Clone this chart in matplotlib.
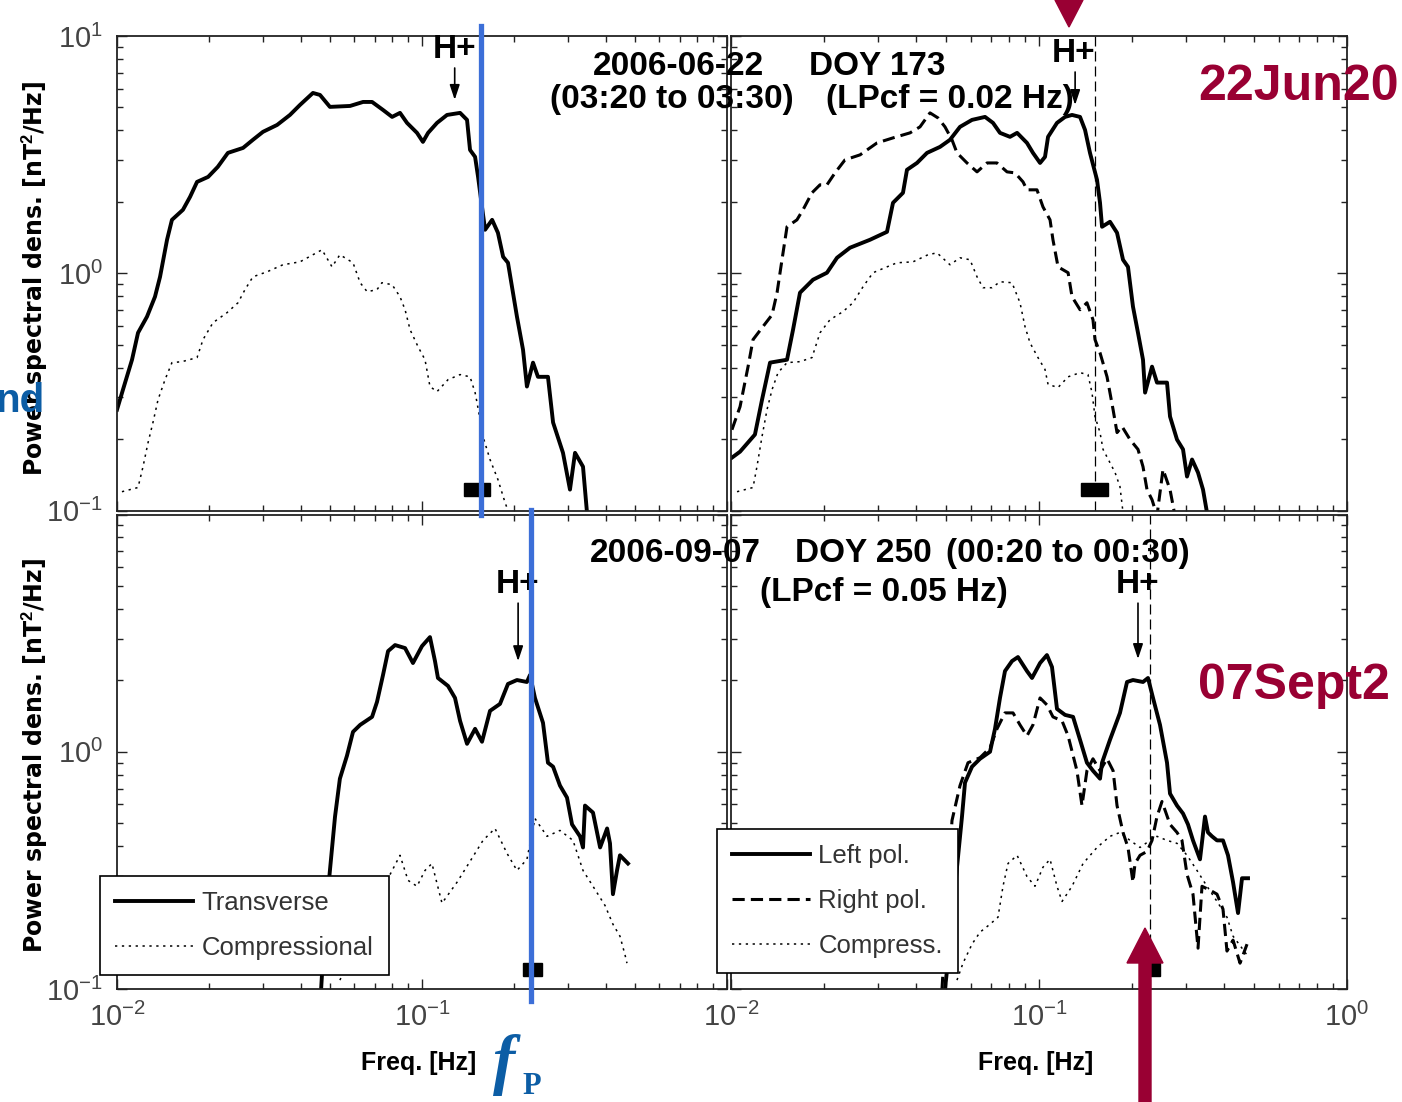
import numpy as np
import matplotlib
matplotlib.use("Agg")
import matplotlib.pyplot as plt
from matplotlib import font_manager as fm
from matplotlib.lines import Line2D
from matplotlib.patches import Rectangle, Polygon
from matplotlib.ticker import FixedLocator, FixedFormatter, LogLocator, NullFormatter

# ---------------------------------------------------------------- data
# Top-left panel: 2006-06-22 (03:20 to 03:30)
tl_trans_f = [0.0100, 0.01046, 0.0112, 0.01172, 0.01254, 0.01332, 0.01384, 0.01459, 0.01514, 0.01645,
              0.01736, 0.0183, 0.0199, 0.0214, 0.0231, 0.0259, 0.0279, 0.0301, 0.0335, 0.0369,
              0.0398, 0.0439, 0.0463, 0.0499, 0.0581, 0.0641, 0.0686, 0.0745, 0.0798, 0.0847,
              0.0893, 0.0963, 0.1007, 0.1047, 0.1120, 0.1208, 0.1333, 0.1405, 0.1437, 0.1493,
              0.1527, 0.1573, 0.1610, 0.1698, 0.1774, 0.1845, 0.1914, 0.2048, 0.2144, 0.2208,
              0.2312, 0.2400, 0.2588, 0.2690, 0.2899, 0.3056, 0.3175, 0.3372, 0.3475]
tl_trans_p = [0.266, 0.323, 0.432, 0.561, 0.656, 0.796, 0.966, 1.384, 1.679, 1.851,
              2.099, 2.427, 2.548, 2.808, 3.216, 3.375, 3.651, 3.945, 4.219, 4.648,
              5.121, 5.754, 5.644, 5.026, 5.072, 5.273, 5.273, 4.879, 4.560, 4.742,
              4.303, 3.906, 3.578, 3.906, 4.303, 4.648, 4.742, 4.430, 3.311, 3.094,
              2.548, 1.905, 1.525, 1.679, 1.481, 1.173, 1.107, 0.656, 0.476, 0.333,
              0.420, 0.366, 0.366, 0.235, 0.175, 0.1225, 0.175, 0.153, 0.098]
tl_comp_f = [0.01038, 0.01172, 0.01217, 0.01264, 0.01312, 0.01363, 0.01437, 0.01514, 0.01633, 0.0183,
             0.01914, 0.02064, 0.02294, 0.02493, 0.02628, 0.0279, 0.03103, 0.0350, 0.0398, 0.0439,
             0.0470, 0.0507, 0.0538, 0.0594, 0.0627, 0.0661, 0.0712, 0.0739, 0.0798, 0.0847,
             0.0880, 0.0914, 0.0970, 0.1023, 0.1062, 0.1120, 0.1217, 0.1333, 0.1437, 0.1493,
             0.1515, 0.1585, 0.1671, 0.1774, 0.1872, 0.1914]
tl_comp_p = [0.120, 0.125, 0.153, 0.193, 0.235, 0.293, 0.356, 0.420, 0.424, 0.441,
             0.525, 0.619, 0.682, 0.751, 0.853, 0.966, 1.014, 1.086, 1.117, 1.197,
             1.256, 1.064, 1.197, 1.107, 0.912, 0.836, 0.853, 0.912, 0.895, 0.796,
             0.702, 0.578, 0.491, 0.432, 0.333, 0.317, 0.356, 0.374, 0.366, 0.314,
             0.285, 0.205, 0.164, 0.135, 0.108, 0.100]

# Top-right panel: DOY 173 (LPcf = 0.02 Hz)
tr_left_f = [0.01007, 0.01070, 0.01196, 0.01261, 0.01339, 0.01520, 0.01590, 0.01675, 0.01846, 0.02049,
             0.02209, 0.02434, 0.02827, 0.0321, 0.03357, 0.03617, 0.03727, 0.04017, 0.04329, 0.04771,
             0.0514, 0.0554, 0.0606, 0.0668, 0.0709, 0.0747, 0.0805, 0.0849, 0.0914, 0.0956,
             0.1008, 0.1046, 0.1070, 0.1144, 0.1215, 0.1280, 0.1359, 0.1411, 0.1464, 0.1543,
             0.1578, 0.1602, 0.1700, 0.1792, 0.1874, 0.1945, 0.2019, 0.2096, 0.2176, 0.2210,
             0.2328, 0.2416, 0.2604, 0.2663, 0.2806, 0.2935, 0.3024, 0.3140, 0.3283, 0.3408, 0.3511]
tr_left_p = [0.167, 0.177, 0.209, 0.293, 0.420, 0.432, 0.578, 0.828, 0.939, 1.005,
             1.162, 1.281, 1.384, 1.495, 1.981, 2.183, 2.729, 2.917, 3.216, 3.409,
             3.651, 4.140, 4.430, 4.560, 4.303, 3.906, 3.758, 3.906, 3.543, 3.216,
             2.917, 3.094, 3.758, 4.303, 4.560, 4.648, 4.560, 4.018, 3.216, 2.475,
             1.981, 1.570, 1.648, 1.481, 1.140, 1.064, 0.723, 0.561, 0.432, 0.314,
             0.404, 0.346, 0.346, 0.249, 0.199, 0.181, 0.139, 0.164, 0.1445, 0.1225, 0.098]
tr_right_f = [0.01007, 0.01070, 0.01136, 0.01179, 0.01270, 0.01359, 0.01411, 0.01464, 0.01520, 0.01637,
              0.01713, 0.01832, 0.01945, 0.02049, 0.02176, 0.02345, 0.02624, 0.02979, 0.03357, 0.03812,
              0.04108, 0.04427, 0.0470, 0.04952, 0.05218, 0.05417, 0.05837, 0.06292, 0.06779, 0.07304,
              0.07874, 0.08359, 0.08875, 0.0914, 0.0985, 0.1030, 0.1086, 0.1110, 0.1153, 0.1243,
              0.1280, 0.1359, 0.1431, 0.1497, 0.1520, 0.1578, 0.1663, 0.1740, 0.1792, 0.1860,
              0.1975, 0.2096, 0.2176, 0.2242, 0.2328, 0.2416, 0.2527, 0.2663, 0.2764]
tr_right_p = [0.219, 0.274, 0.404, 0.525, 0.596, 0.668, 0.828, 1.140, 1.570, 1.679,
              1.851, 2.183, 2.359, 2.359, 2.649, 3.006, 3.155, 3.543, 3.720, 3.906,
              4.140, 4.742, 4.515, 4.140, 3.651, 3.216, 2.917, 2.675, 2.917, 2.917,
              2.675, 2.649, 2.427, 2.247, 2.247, 1.905, 1.679, 1.384, 1.064, 1.005,
              0.796, 0.702, 0.751, 0.637, 0.525, 0.462, 0.366, 0.266, 0.213, 0.226,
              0.199, 0.181, 0.153, 0.1225, 0.111, 0.095, 0.149, 0.1225, 0.095]
tr_comp_f = [0.01046, 0.01179, 0.01214, 0.01261, 0.01309, 0.01359, 0.01421, 0.01520, 0.01675, 0.01832,
             0.01945, 0.02096, 0.02310, 0.02489, 0.02683, 0.02891, 0.0321, 0.03459, 0.03898, 0.04362,
             0.04665, 0.0514, 0.0554, 0.0597, 0.06292, 0.06579, 0.07037, 0.0747, 0.08173, 0.08676,
             0.09006, 0.0935, 0.09926, 0.1046, 0.1070, 0.1153, 0.1243, 0.1359, 0.1442, 0.1486,
             0.1520, 0.1578, 0.1614, 0.1700, 0.1766, 0.1832, 0.1874]
tr_comp_p = [0.120, 0.125, 0.153, 0.205, 0.266, 0.323, 0.381, 0.420, 0.424, 0.441,
             0.561, 0.637, 0.689, 0.751, 0.877, 1.005, 1.064, 1.107, 1.117, 1.197,
             1.219, 1.086, 1.162, 1.140, 0.966, 0.869, 0.869, 0.921, 0.912, 0.751,
             0.596, 0.509, 0.441, 0.393, 0.340, 0.330, 0.366, 0.381, 0.374, 0.314,
             0.249, 0.213, 0.181, 0.159, 0.1445, 0.126, 0.098]

# Bottom-left panel: 2006-09-07
bl_trans_f = [0.04667, 0.04808, 0.0499, 0.05186, 0.0538, 0.05675, 0.0594, 0.0627, 0.0686, 0.0712,
              0.0745, 0.0774, 0.0816, 0.0880, 0.0934, 0.1000, 0.1062, 0.1103, 0.1128, 0.1217,
              0.1283, 0.1333, 0.1405, 0.1493, 0.1573, 0.1671, 0.1802, 0.1914, 0.2048, 0.2208,
              0.2260, 0.2346, 0.2493, 0.2588, 0.2690, 0.2834, 0.2988, 0.3104, 0.3296, 0.3372,
              0.3423, 0.3636, 0.3837, 0.4045, 0.4134, 0.4227, 0.4359, 0.4457, 0.4735]
bl_trans_p = [0.099, 0.1875, 0.316, 0.533, 0.770, 0.962, 1.213, 1.298, 1.403, 1.622,
              2.106, 2.656, 2.816, 2.735, 2.366, 2.788, 3.042, 2.411, 2.046, 1.894,
              1.686, 1.349, 1.080, 1.249, 1.102, 1.487, 1.591, 1.931, 2.006, 1.968,
              2.106, 1.686, 1.324, 0.899, 0.865, 0.720, 0.641, 0.494, 0.440, 0.395,
              0.593, 0.554, 0.395, 0.475, 0.411, 0.251, 0.316, 0.366, 0.338]
bl_comp_f = [0.0538, 0.0768, 0.0847, 0.0900, 0.0963, 0.1023, 0.1078, 0.1163, 0.1303, 0.1437,
             0.1585, 0.1735, 0.1900, 0.2048, 0.2208, 0.2346, 0.2570, 0.2834, 0.3126, 0.3372,
             0.3636, 0.3981, 0.4227, 0.4457, 0.4632, 0.4699]
bl_comp_p = [0.109, 0.287, 0.366, 0.287, 0.271, 0.316, 0.338, 0.230, 0.282, 0.345,
             0.423, 0.475, 0.373, 0.316, 0.352, 0.523, 0.440, 0.466, 0.423, 0.316,
             0.271, 0.225, 0.1875, 0.167, 0.139, 0.1285]

# Bottom-right panel: DOY 250 (LPcf = 0.05 Hz)
br_left_f = [0.04952, 0.05218, 0.05417, 0.05623, 0.05751, 0.0606, 0.06434, 0.06934, 0.07197, 0.0747,
             0.07755, 0.08173, 0.08545, 0.0914, 0.09491, 0.1008, 0.1061, 0.1102, 0.1144, 0.1215,
             0.1290, 0.1359, 0.1431, 0.1497, 0.1578, 0.1602, 0.1700, 0.1832, 0.1931, 0.2019,
             0.2176, 0.2259, 0.2345, 0.2471, 0.2604, 0.2663, 0.2806, 0.2935, 0.3046, 0.3162,
             0.3332, 0.3459, 0.3537, 0.3645, 0.3784, 0.3957, 0.4108, 0.4266, 0.4428, 0.4562, 0.4771]
br_left_p = [0.100, 0.1875, 0.326, 0.533, 0.741, 0.865, 0.934, 1.0, 1.249, 1.686,
             2.188, 2.411, 2.507, 2.188, 2.046, 2.366, 2.556, 2.276, 1.516, 1.430,
             1.403, 1.123, 0.899, 0.832, 0.770, 0.899, 1.123, 1.458, 1.968, 2.006,
             1.968, 2.046, 1.686, 1.298, 0.899, 0.666, 0.593, 0.549, 0.494, 0.423,
             0.352, 0.533, 0.457, 0.440, 0.423, 0.423, 0.366, 0.282, 0.209, 0.293, 0.293]
br_right_f = [0.04842, 0.05218, 0.0554, 0.05882, 0.06434, 0.06934, 0.07304, 0.07755, 0.08234, 0.08676,
              0.0914, 0.0956, 0.1008, 0.1061, 0.1110, 0.1188, 0.1243, 0.1328, 0.1379, 0.1431,
              0.1497, 0.1578, 0.1663, 0.1740, 0.1792, 0.1874, 0.1945, 0.2019, 0.2050, 0.2128,
              0.2242, 0.2328, 0.2416, 0.2508, 0.2663, 0.2806, 0.2912, 0.3024, 0.3162, 0.3283,
              0.3382, 0.3591, 0.3784, 0.3957, 0.4077, 0.4266, 0.4495, 0.4736]
br_right_p = [0.100, 0.513, 0.720, 0.899, 0.944, 1.039, 1.249, 1.458, 1.458, 1.298,
              1.167, 1.298, 1.686, 1.576, 1.403, 1.349, 1.167, 0.832, 0.593, 0.832,
              0.934, 0.832, 0.934, 0.832, 0.593, 0.457, 0.395, 0.282, 0.338, 0.366,
              0.380, 0.423, 0.533, 0.617, 0.494, 0.457, 0.423, 0.304, 0.251, 0.1486,
              0.271, 0.261, 0.251, 0.217, 0.1445, 0.1607, 0.1285, 0.1545]
br_comp_f = [0.05417, 0.05665, 0.0606, 0.06434, 0.06934, 0.0736, 0.0764, 0.07932, 0.0849, 0.0914,
             0.09705, 0.1030, 0.1086, 0.1144, 0.1188, 0.1280, 0.1390, 0.1543, 0.1700, 0.1832,
             0.1975, 0.2128, 0.2293, 0.2416, 0.2604, 0.2806, 0.3024, 0.3258, 0.3511, 0.3784,
             0.4077, 0.4266, 0.4562, 0.4736]
br_comp_p = [0.109, 0.1285, 0.1545, 0.1736, 0.1875, 0.2007, 0.271, 0.338, 0.366, 0.298,
             0.271, 0.326, 0.352, 0.271, 0.234, 0.271, 0.338, 0.395, 0.440, 0.457,
             0.423, 0.395, 0.423, 0.440, 0.423, 0.411, 0.366, 0.316, 0.271, 0.234,
             0.2007, 0.167, 0.1486, 0.139]

# H+ gyrofrequency markers (Hz) and arrow levels (nT^2/Hz)
hplus_f = [0.128, 0.131, 0.2066, 0.2096]
hplus_tip = [5.38, 5.12, 2.41, 2.46]
hplus_tail = [7.33, 7.05, 4.23, 4.23]
# frequency band bars and dashed reference lines
band_top_f = [0.137, 0.167]
band_top_p = [0.1146, 0.130]
band_bot_f = [0.214, 0.247]
band_bot_p = [0.1135, 0.1285]
ref_line_f = [0.152, 0.229]

decades = [0.01, 0.1, 1.0]
decades_y = [0.1, 1.0, 10.0]

# ---------------------------------------------------------------- fonts
names = {f.name for f in fm.fontManager.ttflist}
NARROW = 'Liberation Sans Narrow' if 'Liberation Sans Narrow' in names else 'Liberation Sans'
SANS = 'Liberation Sans'
plt.rcParams['font.family'] = [NARROW, 'DejaVu Sans']
plt.rcParams['mathtext.fontset'] = 'custom'
plt.rcParams['mathtext.rm'] = NARROW
plt.rcParams['mathtext.it'] = NARROW + ':italic'
plt.rcParams['mathtext.bf'] = SANS + ':bold'

W, H = 1402, 1102
fig = plt.figure(figsize=(W / 100, H / 100), dpi=100)
fig.patch.set_facecolor('white')


def fx(x):
    return x / W


def fy(y):
    return 1 - y / H


def add_ax(x0, x1, y0, y1):
    return fig.add_axes([fx(x0), fy(y1), (x1 - x0) / W, (y1 - y0) / H])


ax_tl = add_ax(117, 727, 36, 510.5)
ax_tr = add_ax(731, 1347, 36, 510.5)
ax_bl = add_ax(117, 727, 514.5, 989)
ax_br = add_ax(731, 1347, 514.5, 989)

for ax in (ax_tl, ax_tr, ax_bl, ax_br):
    ax.set_xscale('log')
    ax.set_yscale('log')
    ax.set_xlim(0.01, 1)
    ax.set_ylim(0.1, 10)
    ax.xaxis.set_major_locator(FixedLocator(decades))
    ax.yaxis.set_major_locator(FixedLocator(decades_y))
    ax.xaxis.set_minor_locator(LogLocator(base=10, subs=np.arange(2, 10)))
    ax.yaxis.set_minor_locator(LogLocator(base=10, subs=np.arange(2, 10)))
    ax.xaxis.set_minor_formatter(NullFormatter())
    ax.yaxis.set_minor_formatter(NullFormatter())
    ax.tick_params(which='both', direction='in', top=True, right=True, width=1.0,
                   color='#222222', labelcolor='#444444', labelsize=21, pad=10)
    ax.tick_params(which='major', length=7)
    ax.tick_params(which='minor', length=4)
    for s in ax.spines.values():
        s.set_linewidth(1.3)
        s.set_color('#222222')
    ax.tick_params(labelbottom=False, labelleft=False)

ax_bl.tick_params(labelbottom=True, labelleft=True)
ax_br.tick_params(labelbottom=True)
ax_tl.tick_params(labelleft=True)
ax_bl.xaxis.set_major_formatter(FixedFormatter([r'$10^{-2}$', r'$10^{-1}$', '']))
ax_br.xaxis.set_major_formatter(FixedFormatter([r'$10^{-2}$', r'$10^{-1}$', r'$10^{0}$']))
ax_tl.yaxis.set_major_formatter(FixedFormatter([r'$10^{-1}$', r'$10^{0}$', r'$10^{1}$']))
ax_bl.yaxis.set_major_formatter(FixedFormatter([r'$10^{-1}$', r'$10^{0}$', '']))

SOLID = dict(color='black', lw=2.8, solid_joinstyle='round')
DASH = dict(color='black', lw=2.2, linestyle=(0, (4, 2)))
DOT = dict(color='black', lw=1.1, linestyle=(0, (1.5, 3)))

ax_tl.plot(tl_comp_f, tl_comp_p, **DOT)
ax_tl.plot(tl_trans_f, tl_trans_p, **SOLID)
ax_tr.plot(tr_comp_f, tr_comp_p, **DOT)
ax_tr.plot(tr_right_f, tr_right_p, **DASH)
ax_tr.plot(tr_left_f, tr_left_p, **SOLID)
ax_bl.plot(bl_comp_f, bl_comp_p, **DOT)
ax_bl.plot(bl_trans_f, bl_trans_p, **SOLID)
ax_br.plot(br_comp_f, br_comp_p, **DOT)
ax_br.plot(br_right_f, br_right_p, **DASH)
ax_br.plot(br_left_f, br_left_p, **SOLID)

# band bars
for ax in (ax_tl, ax_tr):
    ax.add_patch(Rectangle((band_top_f[0], band_top_p[0]), band_top_f[1] - band_top_f[0],
                           band_top_p[1] - band_top_p[0], color='black', zorder=3))
for ax in (ax_bl, ax_br):
    ax.add_patch(Rectangle((band_bot_f[0], band_bot_p[0]), band_bot_f[1] - band_bot_f[0],
                           band_bot_p[1] - band_bot_p[0], color='black', zorder=3))

# dashed reference lines
ax_tr.axvline(ref_line_f[0], color='black', lw=0.9, dashes=(8, 4))
ax_br.axvline(ref_line_f[1], color='black', lw=0.9, dashes=(8, 4))

# H+ arrows
for ax, f, tip, tail in zip((ax_tl, ax_tr, ax_bl, ax_br), hplus_f, hplus_tip, hplus_tail):
    ax.annotate('', xy=(f, tip), xytext=(f, tail),
                arrowprops=dict(arrowstyle='-|>,head_length=0.9,head_width=0.3',
                                color='black', lw=1.2, shrinkA=0, shrinkB=0))

# H+ labels
for (x, y) in [(455, 58), (1074, 62), (518, 593), (1138, 593)]:
    fig.text(fx(x), fy(y), 'H+', ha='center', va='baseline', fontsize=24,
             weight='bold', family=[NARROW, 'DejaVu Sans'])

# panel annotations
ann = [(679, 75, '2006-06-22'), (672, 108, '(03:20 to 03:30)'),
       (877, 75, 'DOY 173'), (950, 108, '(LPcf = 0.02 Hz)'),
       (675, 562, '2006-09-07'), (863, 562, 'DOY 250'),
       (1068, 562, '(00:20 to 00:30)'), (884, 601, '(LPcf = 0.05 Hz)')]
for x, y, s in ann:
    fig.text(fx(x), fy(y), s, ha='center', va='baseline', fontsize=24,
             weight='bold', family=[NARROW, 'DejaVu Sans'])

# axis labels
for yc in (278, 755):
    fig.text(fx(35), fy(yc), r'Power spectral dens. [nT$^{\mathbf{2}}$/Hz]', rotation=90,
             ha='center', va='center', fontsize=17, weight='bold', family='DejaVu Sans')
for xc in (419, 1036):
    fig.text(fx(xc), fy(1063), 'Freq. [Hz]', ha='center', va='center', fontsize=18,
             weight='bold', family=SANS)

# legends
leg_kw = dict(loc='upper left', bbox_transform=fig.transFigure, borderaxespad=0,
              frameon=True, fancybox=False, framealpha=1, edgecolor='black',
              prop={'family': NARROW, 'size': 18.5}, handlelength=3.0,
              handletextpad=0.35, borderpad=0.6, labelspacing=0.8)
h_s = Line2D([], [], **SOLID)
h_d = Line2D([], [], **DASH)
h_o = Line2D([], [], **DOT)
leg1 = ax_bl.legend([h_s, h_o], ['Transverse', 'Compressional'],
                    bbox_to_anchor=(fx(100), fy(876)), **leg_kw)
leg2 = ax_br.legend([h_s, h_d, h_o], ['Left pol.', 'Right pol.', 'Compress.'],
                    bbox_to_anchor=(fx(717), fy(829)), **leg_kw)
for lg in (leg1, leg2):
    lg.get_frame().set_linewidth(1.2)
    lg.set_zorder(20)
    for t in lg.get_texts():
        t.set_color('#333333')

# ---------------------------------------------------------------- overlays
BLUE = '#3c6fd8'
RED = '#990033'
DBLUE = '#0c5da5'
fig.add_artist(Line2D([fx(481), fx(481)], [fy(26), fy(515)], color=BLUE, lw=3.8,
                      transform=fig.transFigure, zorder=30))
fig.add_artist(Line2D([fx(531), fx(531)], [fy(510), fy(1001)], color=BLUE, lw=3.8,
                      transform=fig.transFigure, zorder=30))
fig.add_artist(Polygon([(fx(1055), fy(0)), (fx(1083), fy(0)), (fx(1069), fy(27))],
                       closed=True, color=RED, transform=fig.transFigure, zorder=30))
fig.add_artist(Polygon([(fx(1139), fy(1102)), (fx(1151), fy(1102)), (fx(1151), fy(963)),
                        (fx(1163), fy(963)), (fx(1145), fy(928)), (fx(1127), fy(963)),
                        (fx(1139), fy(963))],
                       closed=True, color=RED, transform=fig.transFigure, zorder=30))
fig.text(fx(1198), fy(100), '22Jun20', ha='left', va='baseline', fontsize=36,
         weight='bold', color=RED, family=SANS, zorder=31)
fig.text(fx(1198), fy(699), '07Sept2', ha='left', va='baseline', fontsize=36,
         weight='bold', color=RED, family=SANS, zorder=31)
fig.text(fx(45), fy(412), 'nd', ha='right', va='baseline', fontsize=29,
         weight='bold', color=DBLUE, family=NARROW, zorder=31)
fig.text(fx(493), fy(1082), 'f', ha='left', va='baseline', fontsize=48, style='italic',
         weight='bold', color=DBLUE, family='Liberation Serif', zorder=31)
fig.text(fx(522), fy(1094), 'P', ha='left', va='baseline', fontsize=22,
         weight='bold', color=DBLUE, family='Liberation Serif', zorder=31)

fig.savefig('out.png', dpi=100, facecolor='white')
